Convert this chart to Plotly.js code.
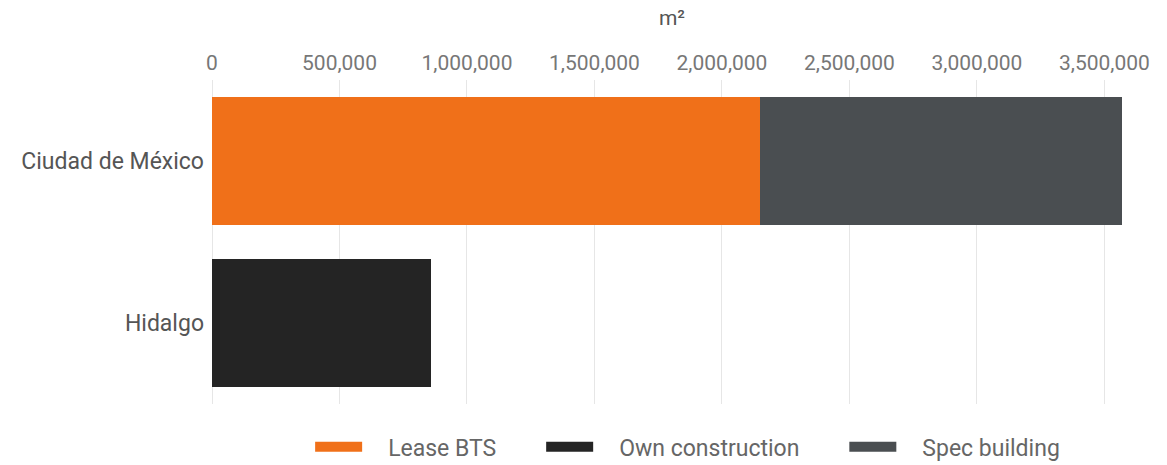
<!DOCTYPE html>
<html><head><meta charset="utf-8">
<script src="https://cdn.plot.ly/plotly-3.0.1.min.js"></script>
<style>html,body{margin:0;padding:0;background:#fff}#chart{width:1167px;height:465px}</style>
</head><body><div id="chart"></div>
<script>
const categories = ["Ciudad de México", "Hidalgo"];
const seriesNames = ["Lease BTS", "Own construction", "Spec building"];
const leaseBTS = [2150000, 0];
const ownConstruction = [0, 860000];
const specBuilding = [1420000, 0];
const tickVals = [0, 500000, 1000000, 1500000, 2000000, 2500000, 3000000, 3500000];
const tickText = ["0", "500,000", "1,000,000", "1,500,000", "2,000,000", "2,500,000", "3,000,000", "3,500,000"];
const colors = ["#F07019", "#242424", "#4A4E51"];
const values = [leaseBTS, ownConstruction, specBuilding];

const traces = seriesNames.map((n, i) => ({
  type: "bar", orientation: "h", name: n,
  y: categories, x: values[i],
  marker: {color: colors[i]},
  legendgroup: n, showlegend: false,
  hoverinfo: "x+name"
}));
// legend-only entries drawn with a wide swatch
const pad = "\u00A0".repeat(7);
seriesNames.forEach((n, i) => traces.push({
  type: "scatter", mode: "lines", name: n + (i < seriesNames.length - 1 ? pad : ""), legendgroup: n,
  x: [null], y: [null], hoverinfo: "skip",
  line: {color: colors[i], width: 18, dash: "47px,200px"}
}));

const layout = {
  width: 1167, height: 465,
  margin: {l: 212, r: 35, t: 80, b: 61},
  barmode: "stack", bargap: 0.21,
  font: {family: "Roboto, Arial, sans-serif", size: 22, color: "#666"},
  paper_bgcolor: "#fff", plot_bgcolor: "#fff",
  xaxis: {
    side: "top", range: [0, 3608000], automargin: false,
    tickvals: tickVals, ticktext: tickText,
    showgrid: true, gridcolor: "#e6e6e6", zeroline: true, zerolinecolor: "#e6e6e6",
    tickfont: {size: 21, color: "#777"},
    ticklabelstandoff: 5,
    title: {text: "m²", font: {size: 21, color: "#555"}, standoff: 19},
    fixedrange: true
  },
  yaxis: {
    autorange: "reversed", categoryorder: "array", categoryarray: categories, automargin: false,
    tickfont: {size: 23, color: "#555"}, ticklabelstandoff: 7,
    showgrid: false, fixedrange: true
  },
  legend: {orientation: "h", x: 0.517, xanchor: "center", yref: "container", y: 0.039, yanchor: "middle",
    font: {size: 23, color: "#666"}, traceorder: "normal", itemwidth: 68},
  showlegend: true
};
Plotly.newPlot("chart", traces, layout, {displayModeBar: false});
</script></body></html>
